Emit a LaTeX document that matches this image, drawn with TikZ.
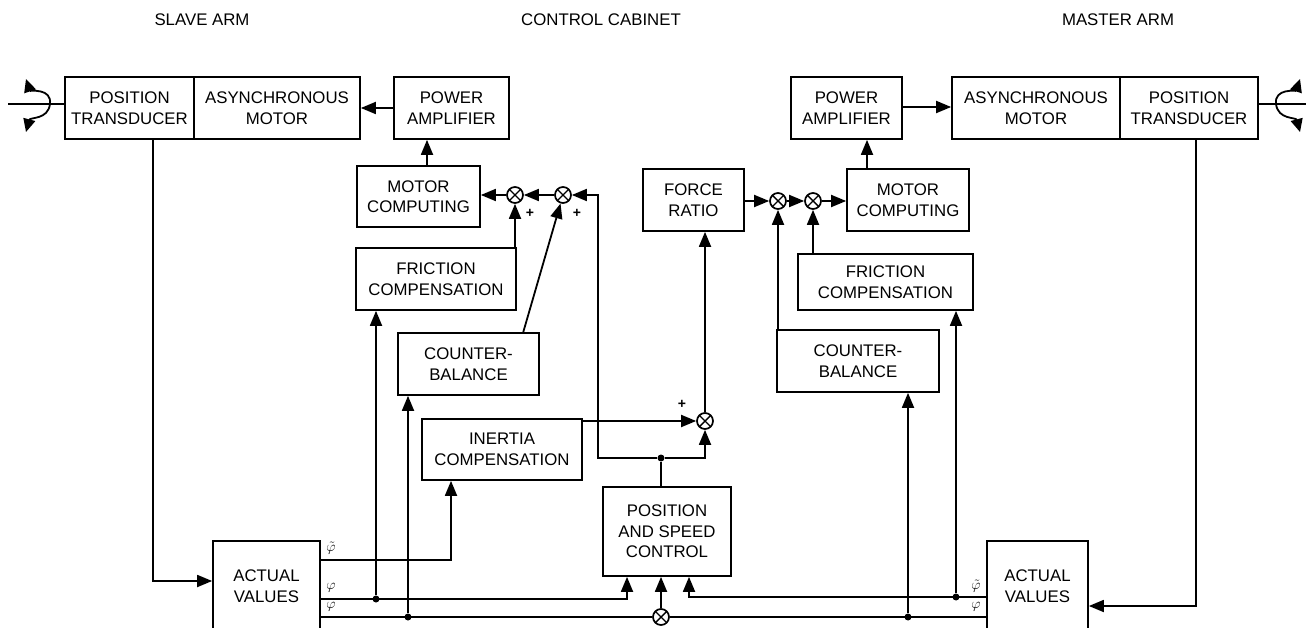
\documentclass[tikz,border=0pt]{standalone}
\usepackage{fontspec}
\setmainfont{Liberation Sans}
\usetikzlibrary{arrows.meta}
\newcommand\lblfont{\fontsize{16.8}{20.5}\selectfont}
\begin{document}
\begin{tikzpicture}[x=1pt,y=-1pt,
  blk/.style={draw, line width=1.7pt, align=center, inner sep=0pt, font=\lblfont},
  ttl/.style={inner sep=0pt, font=\lblfont},
  ln/.style={line width=1.8pt},
  arr/.style={-{Triangle[length=15pt,width=12pt]}},
  twoarr/.style={{Triangle[length=13pt,width=12pt]}-{Triangle[length=13pt,width=12pt]}},
  sumj/.style={circle, draw, fill=white, line width=1.7pt, minimum size=16pt, inner sep=0pt,
    path picture={\draw[line width=1.4pt] (path picture bounding box.north west) -- (path picture bounding box.south east)
      (path picture bounding box.north east) -- (path picture bounding box.south west);}},
  jdot/.style={circle, fill, inner sep=0pt, minimum size=7pt},
  plus/.style={inner sep=0pt, font=\bfseries\fontsize{14}{14}\selectfont},
  phi/.style={inner sep=0pt, font=\fontsize{14}{16}\selectfont}
]
\useasboundingbox (0,0) rectangle (1306,628);
\clip (0,0) rectangle (1306,628);

% titles
\node[ttl] (tslave) at (202,20) {SLAVE ARM};
\node[ttl] (tcab) at (601,20) {CONTROL CABINET};
\node[ttl] (tmas) at (1118,20) {MASTER ARM};

% slave side blocks
\node[blk, minimum width=129pt, minimum height=62pt] (spt) at (129.5,108) {POSITION\\TRANSDUCER};
\node[blk, minimum width=166pt, minimum height=62pt] (sam) at (277,108) {ASYNCHRONOUS\\MOTOR};
\node[blk, minimum width=115pt, minimum height=62pt] (spa) at (451.5,108) {POWER\\AMPLIFIER};
\node[blk, minimum width=123pt, minimum height=61pt] (smc) at (418.5,196.5) {MOTOR\\COMPUTING};
\node[blk, minimum width=160pt, minimum height=62pt] (sfc) at (436,279) {FRICTION\\COMPENSATION};
\node[blk, minimum width=141pt, minimum height=62pt] (scb) at (468.5,364) {COUNTER-\\BALANCE};
\node[blk, minimum width=160pt, minimum height=61pt] (inc) at (502,449.5) {INERTIA\\COMPENSATION};
\node[blk, minimum width=107pt, minimum height=90pt] (sav) at (266.5,586) {ACTUAL\\VALUES};

% centre blocks
\node[blk, minimum width=101pt, minimum height=62pt] (fr) at (693.5,200) {FORCE\\RATIO};
\node[blk, minimum width=128pt, minimum height=89pt] (psc) at (667,531.5) {POSITION\\AND SPEED\\CONTROL};

% master side blocks
\node[blk, minimum width=111pt, minimum height=62pt] (mpa) at (846.5,108) {POWER\\AMPLIFIER};
\node[blk, minimum width=168pt, minimum height=62pt] (mam) at (1036,108) {ASYNCHRONOUS\\MOTOR};
\node[blk, minimum width=138pt, minimum height=62pt] (mpt) at (1189,108) {POSITION\\TRANSDUCER};
\node[blk, minimum width=122pt, minimum height=62pt] (mmc) at (908,200) {MOTOR\\COMPUTING};
\node[blk, minimum width=175pt, minimum height=56pt] (mfc) at (885.5,282) {FRICTION\\COMPENSATION};
\node[blk, minimum width=162pt, minimum height=62pt] (mcb) at (858,361) {COUNTER-\\BALANCE};
\node[blk, minimum width=101pt, minimum height=90pt] (mav) at (1037.5,586) {ACTUAL\\VALUES};

% summing junctions
\node[sumj] (sj1) at (515,195) {};
\node[sumj] (sj2) at (563,195) {};
\node[sumj] (sj3) at (705,421) {};
\node[sumj] (mj1) at (778,201) {};
\node[sumj] (mj2) at (813,201) {};
\node[sumj] (bj) at (661,617) {};

% junction dots
\node[jdot] (d1) at (661,458) {};
\node[jdot] (d2) at (376,599) {};
\node[jdot] (d3) at (408,617) {};
\node[jdot] (d4) at (956,597) {};
\node[jdot] (d5) at (908,617) {};

% signs
\node[plus] (p1) at (530,213) {+};
\node[plus] (p2) at (577,213) {+};
\node[plus] (p3) at (682,404) {+};

% phi labels
\node[phi] (f1) at (331,548) {$\tilde{\varphi}$};
\node[phi] (f2) at (331,588) {$\varphi$};
\node[phi] (f3) at (331,607) {$\varphi$};
\node[phi] (f4) at (976,586) {$\tilde{\varphi}$};
\node[phi] (f5) at (976,607) {$\varphi$};

% shafts with rotation symbols
\coordinate (ss0) at (8,104);
\draw[ln] (ss0) -- (spt.west |- ss0);
\draw[ln,twoarr] (26,79) .. controls (30,91) and (52,88) .. (50,104) .. controls (48,120) and (30,117) .. (26,132);
\coordinate (ms0) at (1306,104);
\draw[ln] (mpt.east |- ms0) -- (ms0);
\draw[ln,twoarr] (1300,79) .. controls (1296,91) and (1274,88) .. (1276,104) .. controls (1278,120) and (1296,117) .. (1300,132);

% slave upper chain
\draw[ln,arr] (spa.west) -- (sam.east);
\draw[ln,arr] (smc.north -| 427,0) -- (spa.south -| 427,0);
\draw[ln,arr] (sj1.west) -- (smc.east |- sj1);
\draw[ln,arr] (sj2.west) -- (sj1.east);
\draw[ln,arr] (sfc.north -| sj1) -- (sj1.south);
\coordinate (cbt) at (523,333);
\draw[ln,arr] (cbt) -- (sj2);

% feedback around position and speed control
\coordinate (fb1) at (598,458);
\coordinate (fb2) at (598,195);
\coordinate (fb3) at (705,458);
\draw[ln,arr] (d1) -- (fb1) -- (fb2) -- (sj2.east);
\draw[ln,arr] (d1) -- (fb3) -- (sj3.south);
\draw[ln] (psc.north -| d1) -- (d1);
\draw[ln,arr] (inc.east |- sj3) -- (sj3.west);
\draw[ln,arr] (sj3.north) -- (fr.south -| sj3);

% master upper chain
\draw[ln,arr] (fr.east |- mj1) -- (mj1.west);
\draw[ln,arr] (mj1.east) -- (mj2.west);
\draw[ln,arr] (mj2.east) -- (mmc.west |- mj2);
\draw[ln,arr] (mcb.north -| mj1) -- (mj1.south);
\draw[ln,arr] (mfc.north -| mj2) -- (mj2.south);
\draw[ln,arr] (mmc.north -| 867,0) -- (mpa.south -| 867,0);
\draw[ln,arr] (mpa.east |- 0,107) -- (mam.west |- 0,107);

% transducer feedback
\coordinate (st1) at (153,581);
\draw[ln,arr] (spt.south -| st1) -- (st1) -- (sav.west |- st1);
\coordinate (mt1) at (1196,606);
\draw[ln,arr] (mpt.south -| mt1) -- (mt1) -- (mav.east |- mt1);

% slave actual values outputs
\coordinate (s1) at (451,560);
\draw[ln,arr] (sav.east |- s1) -- (s1) -- (inc.south -| s1);
\coordinate (s2) at (627,599);
\draw[ln,arr] (sav.east |- s2) -- (s2) -- (psc.south -| s2);
\draw[ln,arr] (d2) -- (sfc.south -| d2);
\draw[ln] (sav.east |- bj) -- (bj.west);
\draw[ln,arr] (d3) -- (scb.south -| d3);
\draw[ln,arr] (bj.north) -- (psc.south -| bj);

% master actual values outputs
\coordinate (m1) at (689,597);
\draw[ln,arr] (mav.west |- m1) -- (m1) -- (psc.south -| m1);
\draw[ln,arr] (d4) -- (mfc.south -| d4);
\draw[ln] (mav.west |- bj) -- (bj.east);
\draw[ln,arr] (d5) -- (mcb.south -| d5);
\end{tikzpicture}
\end{document}
